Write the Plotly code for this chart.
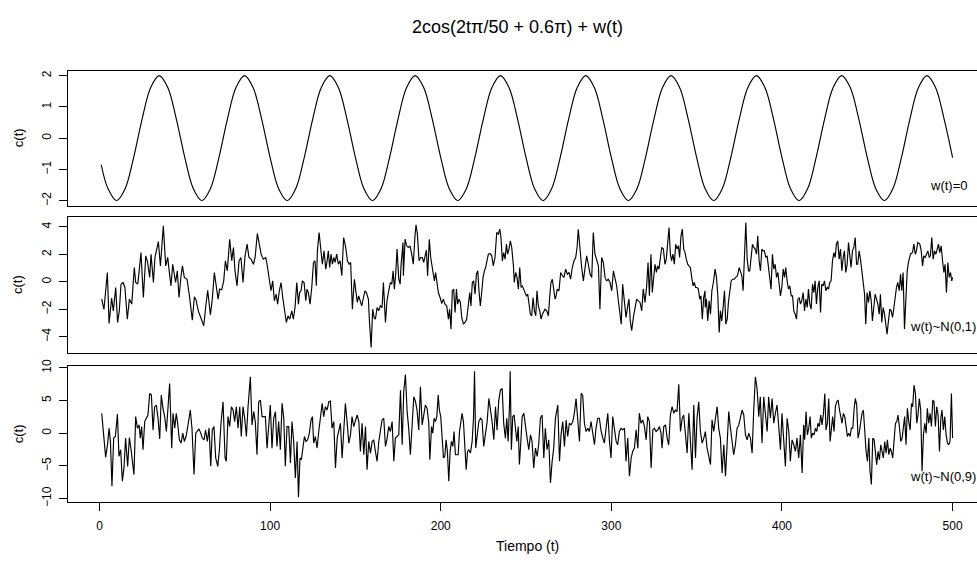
import plotly.graph_objects as go

# ---------------- data ----------------
# Panel 1: clean cosine, read at t = 1, 5, 10, 15, ..., 500
cos_t = [1, 5] + list(range(10, 501, 5))
cos_y = [-0.85, -1.62,
         -2, -1.62, -0.62, 0.62, 1.62, 2, 1.62, 0.62, -0.62, -1.62,
         -2, -1.62, -0.62, 0.62, 1.62, 2, 1.62, 0.62, -0.62, -1.62,
         -2, -1.62, -0.62, 0.62, 1.62, 2, 1.62, 0.62, -0.62, -1.62,
         -2, -1.62, -0.62, 0.62, 1.62, 2, 1.62, 0.62, -0.62, -1.62,
         -2, -1.62, -0.62, 0.62, 1.62, 2, 1.62, 0.62, -0.62, -1.62,
         -2, -1.62, -0.62, 0.62, 1.62, 2, 1.62, 0.62, -0.62, -1.62,
         -2, -1.62, -0.62, 0.62, 1.62, 2, 1.62, 0.62, -0.62, -1.62,
         -2, -1.62, -0.62, 0.62, 1.62, 2, 1.62, 0.62, -0.62, -1.62,
         -2, -1.62, -0.62, 0.62, 1.62, 2, 1.62, 0.62, -0.62, -1.62,
         -2, -1.62, -0.62, 0.62, 1.62, 2, 1.62, 0.62, -0.62]

# Panel 2: cosine + N(0,1) noise, (t, value) pairs
noise1_pts = [
 (1.3,-1.26),(2.6,-2.01),(4.6,0.68),(5.6,-3.03),(7.1,-1.19),(8.1,-2.11),(9.5,-0.41),(10.6,-2.96),
 (11.6,-2.11),(12.6,-0.17),(13.8,-0.05),(14.9,-0.41),(16.3,-2.72),(17.5,-1.26),(18.9,-1.62),(20.4,1.04),
 (21.2,-0.05),(22.4,-0.17),(23.3,0.85),(24.3,2.13),(25.7,-1.14),(27.1,1.89),(28.2,1.41),(29.4,0.32),
 (30.2,2.01),(31.6,-0.05),(32.5,1.77),(33.5,2.25),(34.5,2.93),(35.7,1.16),(37.4,4.07),(38.8,1.16),
 (40.0,1.77),(40.7,0.92),(41.9,-0.29),(42.9,1.28),(43.9,0.56),(44.6,-0.05),(45.6,0.80),(46.6,-1.14),
 (47.8,0.44),(48.6,1.16),(49.7,0.32),(51.3,0.19),(52.7,-1.02),(54.4,-2.79),(55.6,-1.09),(56.6,-1.33),
 (57.9,-2.11),(59.5,-2.72),(61.1,-3.20),(62.2,-1.87),(63.4,-0.61),(65.0,-2.40),(66.1,-1.26),(67.3,0.68),
 (68.5,-0.29),(69.5,-1.26),(70.4,-0.53),(71.6,-0.58),(72.8,0.07),(73.8,1.53),(74.9,0.80),(76.3,3.10),
 (77.5,1.53),(78.5,2.50),(79.4,0.80),(80.6,-0.29),(81.8,1.53),(82.9,1.77),(84.1,-0.05),(85.3,1.89),
 (86.5,2.74),(87.6,1.77),(88.8,1.65),(90.0,1.41),(90.2,1.28),(91.2,1.77),(92.5,3.52),(93.5,2.86),
 (94.7,2.01),(96.0,1.65),(97.4,1.77),(98.2,1.28),(99.4,0.32),(100.5,-0.65),(101.5,0.07),(102.5,-1.38),
 (103.5,-0.90),(104.4,-1.62),(105.4,-0.65),(106.4,-0.05),(107.4,-1.14),(108.4,-2.11),(109.5,-2.96),(110.5,-2.47),
 (111.5,-2.72),(112.7,-2.11),(113.6,-2.72),(114.6,-1.87),(115.6,-0.05),(116.6,-1.62),(117.3,-0.78),(118.1,-0.65),
 (118.9,0.07),(119.9,-0.05),(120.9,-1.38),(121.6,-0.53),(122.4,-0.78),(123.4,-1.62),(124.4,-0.41),(125.4,1.41),
 (126.3,1.53),(127.1,-0.29),(127.7,2.25),(128.7,3.59),(129.6,2.50),(130.6,1.28),(131.6,2.25),(132.6,0.92),
 (133.4,1.53),(134.1,2.25),(134.9,1.04),(135.7,2.01),(136.5,1.28),(137.3,1.77),(138.1,1.41),(139.0,2.01),
 (140.0,1.28),(141.0,1.53),(142.0,0.44),(143.1,3.22),(144.3,2.50),(145.3,1.53),(146.3,1.28),(147.2,1.41),
 (148.2,-1.99),(149.4,0.19),(150.2,-0.65),(151.1,-1.50),(151.9,-1.02),(152.7,-1.38),(153.7,-1.75),(154.7,-1.14),
 (155.6,-0.65),(156.4,-0.78),(157.6,-1.26),(158.2,-2.84),(159.2,-4.78),(160.1,-1.99),(160.9,-2.59),(161.7,-2.72),
 (162.7,-1.87),(163.6,-2.11),(164.6,-1.75),(165.6,-1.87),(166.4,-0.05),(167.6,-2.96),(168.5,-1.38),(169.5,-0.65),
 (170.5,-0.05),(171.3,-0.17),(172.1,0.80),(172.8,-0.53),(173.6,0.56),(174.4,2.38),(175.4,0.19),(176.2,-0.17),
 (176.7,1.16),(177.9,2.86),(178.1,0.44),(179.1,3.10),(180.0,2.62),(181.0,2.50),(182.0,2.62),(183.0,2.01),
 (183.9,1.28),(184.9,3.35),(185.5,4.15),(186.3,3.47),(187.3,1.53),(188.2,1.77),(189.2,1.77),(190.0,1.41),
 (190.8,2.01),(191.6,2.30),(192.3,0.44),(193.3,3.10),(194.1,1.77),(194.7,1.28),(195.5,0.80),(196.3,0.07),
 (197.0,0.68),(197.8,-0.05),(198.6,-0.78),(199.6,-1.14),(200.6,-1.58),(201.5,-1.26),(202.5,-1.62),(203.5,-1.75),
 (204.5,-2.72),(205.2,-1.99),(206.0,-3.44),(206.8,-0.65),(207.6,-0.53),(208.4,-2.23),(209.2,-0.53),(209.9,-1.62),
 (210.7,-1.26),(211.5,-1.50),(212.3,-2.59),(213.3,-3.08),(214.2,-2.96),(215.2,-2.72),(216.2,-1.38),(217.0,-0.78),
 (217.7,-1.75),(218.5,-0.05),(219.3,0.07),(220.1,-0.90),(220.9,0.56),(221.7,0.80),(222.4,-0.65),(223.2,-1.75),
 (224.0,-0.78),(224.8,0.32),(225.6,0.80),(226.3,1.04),(227.1,1.53),(227.9,2.01),(228.9,2.06),(229.9,1.89),
 (230.8,1.16),(231.8,1.77),(232.8,3.59),(233.8,3.47),(234.6,3.83),(235.3,3.22),(236.1,1.53),(236.9,2.13),
 (237.7,1.65),(238.5,2.74),(239.2,2.01),(240.0,2.38),(240.8,2.98),(241.6,2.50),(242.6,1.16),(243.1,-0.05),
 (243.9,0.68),(244.7,0.32),(245.5,-0.53),(246.3,1.04),(247.1,-0.41),(247.8,-0.29),(248.6,-0.53),(249.4,-0.78),
 (250.2,-1.02),(251.0,-0.90),(251.7,-1.50),(252.5,-2.35),(253.3,-2.47),(254.1,-1.14),(254.9,-2.11),(255.7,-2.47),
 (256.4,-0.65),(257.2,-1.75),(258.0,-2.11),(258.8,-2.72),(259.6,-2.35),(260.3,-2.11),(261.1,-1.99),(262.1,-2.11),
 (263.1,-2.47),(263.9,-1.02),(264.6,-0.05),(265.4,0.19),(266.2,-0.65),(267.0,-1.26),(267.4,-1.14),(268.3,-0.53),
 (269.3,-0.65),(270.3,0.68),(271.3,0.44),(272.2,0.32),(273.2,0.92),(274.2,0.56),(275.2,0.68),(276.1,0.19),
 (277.1,1.04),(278.1,1.53),(279.1,1.77),(279.9,2.50),(280.6,3.83),(281.4,2.50),(282.6,1.04),(283.6,0.07),
 (284.5,0.80),(285.5,1.89),(286.5,1.28),(287.5,0.56),(288.5,0.32),(289.4,3.59),(290.4,2.01),(291.4,1.53),
 (292.4,1.16),(293.3,-1.99),(294.3,1.77),(295.3,1.41),(296.3,0.32),(297.2,0.07),(298.2,0.19),(299.2,-0.05),
 (300.2,-0.65),(301.2,0.80),(302.1,0.32),(303.1,-0.29),(304.1,-1.38),(305.1,-2.35),(305.8,-3.08),(306.6,-0.17),
 (307.6,-1.38),(308.6,-2.59),(309.6,-1.75),(310.3,-1.26),(311.1,-2.84),(311.9,-3.56),(312.9,-2.59),(313.9,-1.87),
 (314.8,-1.26),(315.8,-1.38),(316.8,-1.50),(317.8,-2.11),(318.7,-0.53),(319.7,-1.50),(320.7,-0.29),(321.5,1.41),
 (322.3,-1.02),(323.2,2.01),(324.0,-0.78),(324.8,0.32),(325.6,1.28),(326.4,0.68),(327.1,1.16),(327.9,0.92),
 (328.7,1.77),(329.5,2.50),(330.5,2.38),(331.4,1.28),(332.2,1.65),(333.0,3.22),(333.8,3.95),(334.6,2.01),
 (335.3,1.53),(336.1,2.01),(336.9,1.28),(337.7,2.74),(338.5,2.38),(339.3,2.62),(340.0,1.77),(340.8,3.35),
 (341.6,3.83),(342.4,2.38),(343.2,2.13),(343.9,1.65),(344.7,1.28),(345.5,1.16),(346.3,1.04),(347.1,0.32),
 (347.9,-0.29),(348.6,-0.05),(349.4,-0.41),(350.2,-0.41),(351.0,-0.53),(351.8,-1.26),(352.5,-1.02),(353.3,-2.72),
 (354.1,-1.14),(354.9,-0.65),(355.0,-1.87),(355.7,-1.26),(356.5,-2.84),(357.3,-1.38),(358.1,-2.35),(358.9,-0.65),
 (359.8,-0.05),(360.8,0.92),(361.6,0.32),(362.4,-1.02),(363.2,-3.68),(363.9,-2.11),(364.7,-2.84),(365.5,-1.87),
 (366.3,-0.65),(367.1,-3.08),(367.9,-2.72),(368.6,-1.50),(369.4,-0.65),(370.2,0.07),(371.0,0.19),(372.0,0.19),
 (372.9,0.32),(373.9,0.44),(374.9,1.04),(375.7,0.80),(376.5,0.44),(377.2,-0.65),(378.0,1.77),(378.8,4.32),
 (379.6,1.65),(380.4,0.80),(381.1,0.80),(381.9,1.89),(382.7,2.74),(383.5,2.50),(384.3,2.38),(385.1,2.01),
 (385.8,3.35),(386.6,1.53),(387.4,0.80),(388.2,2.38),(389.0,2.25),(389.7,2.25),(390.5,1.77),(391.3,1.89),
 (392.1,1.16),(392.9,0.44),(393.6,-0.53),(394.4,2.01),(395.2,0.92),(396.0,1.28),(396.8,0.32),(397.6,0.68),
 (398.3,0.07),(399.1,-1.02),(399.9,-0.41),(400.7,0.92),(401.5,0.32),(402.2,1.04),(403.0,0.07),(403.8,-0.53),
 (404.6,-0.29),(405.4,-1.02),(406.2,-1.02),(406.9,-2.11),(407.7,-2.35),(408.5,-2.72),(409.3,-1.26),(410.1,-1.14),
 (410.8,-1.62),(411.6,-1.38),(412.4,-0.78),(413.2,-2.11),(414.0,-1.26),(414.8,-1.87),(415.5,-0.53),(416.3,-1.62),
 (417.1,-1.99),(417.9,-0.17),(418.7,-0.78),(419.4,0.07),(420.2,-1.62),(421.0,-0.41),(421.8,0.07),(422.6,-2.23),
 (423.3,-0.17),(424.1,-0.29),(424.9,0.07),(425.7,-0.65),(426.5,-0.41),(427.3,-0.53),(428.0,-0.05),(428.8,0.07),
 (429.6,1.53),(430.4,2.13),(431.2,1.77),(431.9,2.74),(432.7,2.98),(433.5,1.65),(434.3,2.38),(435.1,0.80),
 (435.9,1.77),(436.6,2.25),(437.4,0.68),(438.2,1.28),(439.0,2.86),(439.8,2.01),(440.5,1.04),(441.3,2.25),
 (442.1,2.50),(442.9,3.22),(443.7,1.28),(444.4,1.28),(445.2,2.25),(446.0,1.65),(446.8,0.80),(447.6,0.32),
 (448.4,-0.90),(449.1,-3.08),(449.9,-0.78),(450.7,-1.50),(451.5,-0.65),(452.3,-1.38),(453.0,-2.84),(453.8,-1.87),
 (454.6,-0.90),(455.4,-1.26),(456.2,-1.62),(457.0,-2.35),(457.7,-0.90),(458.5,-2.96),(459.3,-1.87),(460.1,-2.35),
 (460.9,-3.20),(461.6,-3.81),(462.4,-2.84),(463.2,-1.99),(464.0,-2.11),(464.8,-2.59),(465.6,-1.87),(466.3,-1.14),
 (467.1,-0.41),(467.9,-0.05),(468.7,-0.65),(469.5,0.56),(470.2,-0.65),(471.0,0.68),(471.8,-3.44),(473.4,0.80),
 (474.1,1.41),(475.3,2.01),(476.5,2.13),(477.3,2.74),(478.1,2.01),(478.8,2.25),(479.6,2.86),(480.8,2.74),
 (481.6,2.25),(482.4,1.16),(483.1,1.89),(483.9,1.77),(484.7,2.01),(485.5,2.25),(486.3,1.77),(487.0,1.89),
 (487.8,3.22),(488.6,1.65),(489.4,2.25),(490.2,2.01),(491.0,2.38),(491.7,2.74),(492.5,2.13),(493.3,2.62),
 (494.1,1.53),(494.9,0.68),(495.6,1.28),(496.4,-0.78),(497.2,1.41),(498.0,0.32),(498.8,0.68),(499.5,0.07),
 (500.0,0.32)]

# Panel 3: cosine + N(0,9) noise, (t, value) pairs
noise9_pts = [
 (1.3,3.04),(2.4,-0.25),(3.6,-3.69),(4.8,-1.51),(5.6,0.77),(6.4,-1.26),(7.3,-8.11),(8.3,-0.75),
 (9.3,-0.50),(10.5,2.94),(11.4,-3.54),(12.4,-2.53),(13.4,-7.35),(14.4,-5.07),(15.3,-0.75),(16.5,-5.07),
 (17.5,-0.65),(18.5,-2.53),(19.4,-4.31),(20.2,-6.33),(21.2,2.54),(22.2,0.77),(23.2,1.27),(23.9,-0.75),
 (24.7,1.02),(25.5,-2.53),(26.5,1.78),(27.5,2.28),(28.4,2.79),(29.4,6.08),(30.4,5.83),(31.4,0.51),
 (32.3,4.06),(33.3,4.31),(34.3,2.28),(35.3,-0.86),(36.2,5.83),(37.2,3.81),(38.2,2.54),(39.2,0.26),
 (40.2,4.31),(41.1,7.60),(42.3,-2.28),(43.1,3.04),(44.1,0.77),(45.0,3.04),(45.8,1.52),(46.8,-1.01),
 (47.8,-1.51),(48.8,0.01),(49.7,-1.26),(50.7,-0.50),(51.9,1.27),(53.2,3.55),(54.2,0.77),(55.4,-6.33),
 (56.4,0.01),(57.3,0.41),(58.3,0.66),(59.3,0.01),(60.3,-0.75),(61.3,-1.01),(62.2,0.51),(63.2,-1.26),
 (64.2,0.77),(65.2,-5.07),(66.1,0.51),(67.1,1.02),(68.1,-3.79),(69.3,-5.07),(70.2,-2.78),(71.2,1.52),
 (72.4,4.82),(73.6,-3.79),(74.3,-4.30),(75.3,2.54),(76.3,1.02),(77.3,4.06),(78.3,3.55),(79.2,1.78),
 (80.2,4.06),(81.2,0.77),(82.2,4.06),(83.1,-0.50),(84.1,4.06),(85.1,2.28),(86.1,-0.50),(87.0,3.81),
 (88.4,8.62),(89.4,1.27),(90.4,3.30),(91.3,1.78),(92.3,-3.29),(93.3,4.82),(94.3,5.07),(95.3,2.54),
 (96.2,2.54),(97.2,2.54),(98.2,-2.28),(99.2,1.02),(100.1,4.31),(101.1,-2.28),(102.1,2.28),(103.1,3.30),
 (104.0,-2.03),(105.0,1.78),(106.0,-2.53),(107.0,4.57),(108.0,2.28),(108.9,-5.07),(109.9,1.02),(110.9,1.02),
 (111.9,-4.56),(112.8,1.78),(113.8,-1.26),(114.8,-6.84),(115.8,-1.26),(116.6,-9.80),(117.5,-3.79),(118.3,-4.05),
 (119.3,-1.77),(120.1,-0.50),(121.0,-1.26),(122.0,-1.01),(123.0,0.01),(124.0,2.03),(124.8,2.54),(125.5,-1.51),
 (126.5,-0.50),(127.5,-2.27),(128.5,0.26),(129.5,2.54),(130.5,4.56),(131.4,2.54),(132.4,4.06),(133.4,3.55),
 (134.4,4.82),(135.3,4.92),(136.3,0.77),(137.3,1.78),(138.3,-5.31),(139.3,-0.75),(140.2,0.26),(141.2,1.52),
 (142.2,-3.79),(143.2,1.78),(144.1,4.56),(145.1,1.78),(146.1,-1.51),(147.1,-0.25),(148.0,2.54),(149.0,1.02),
 (150.0,1.78),(151.0,2.79),(152.0,1.78),(152.9,-2.78),(153.9,1.52),(154.9,-3.29),(155.9,1.02),(156.8,-5.57),
 (157.8,-1.26),(158.8,-3.04),(159.8,-1.26),(160.7,-1.01),(161.7,-2.78),(162.7,-4.30),(163.7,-1.26),(164.7,0.51),
 (165.6,2.03),(166.6,2.28),(167.6,-2.02),(168.6,-0.75),(169.5,1.02),(170.5,0.26),(171.5,1.78),(172.5,-4.30),
 (173.4,-0.75),(174.4,-0.50),(175.4,-0.25),(176.4,6.59),(177.4,-1.77),(178.3,6.34),(179.3,8.97),(180.3,3.30),
 (181.3,0.51),(182.2,-3.29),(183.2,1.52),(184.2,5.58),(185.2,4.82),(186.1,3.55),(187.1,0.51),(188.1,7.10),
 (189.1,1.27),(190.1,3.04),(191.0,4.31),(192.0,3.81),(193.0,1.52),(193.6,-4.05),(194.6,1.02),(195.3,0.01),
 (196.1,2.28),(196.9,1.78),(197.7,2.54),(198.5,5.83),(199.2,3.55),(200.0,2.54),(200.8,-0.25),(201.6,-3.79),
 (202.4,-3.54),(203.1,-1.01),(203.9,-2.78),(204.7,-7.35),(205.5,-2.78),(206.3,-1.26),(207.1,-2.02),(207.8,0.26),
 (208.6,-3.29),(209.4,-3.29),(210.2,-3.29),(211.0,0.26),(211.7,1.52),(212.5,3.04),(213.3,1.78),(214.1,-2.28),
 (214.9,-5.57),(215.7,-2.78),(216.4,-2.53),(217.4,-3.04),(218.4,-1.26),(219.2,2.28),(219.8,9.48),(220.5,-2.28),
 (221.3,-0.75),(222.3,1.78),(223.3,2.28),(224.2,2.03),(225.2,-2.02),(226.2,0.26),(227.2,1.78),(228.2,5.32),
 (229.1,3.81),(230.1,1.78),(231.1,-1.01),(232.1,4.06),(233.0,0.51),(234.0,5.07),(235.0,6.59),(236.0,6.84),
 (236.9,1.52),(237.9,-0.75),(238.7,2.28),(239.5,-1.26),(240.3,4.31),(240.7,9.48),(241.4,-2.53),(242.2,2.54),
 (243.0,2.79),(243.8,1.02),(244.6,-1.26),(245.4,1.02),(246.1,-4.80),(246.9,-1.51),(247.7,2.54),(248.7,3.04),
 (249.6,0.77),(250.6,-0.75),(251.6,-2.53),(252.6,-0.25),(253.5,-1.26),(254.5,-5.31),(255.5,-2.28),(256.5,-3.55),
 (257.4,-1.77),(258.4,2.28),(259.4,2.79),(260.4,-3.79),(261.3,0.77),(262.3,-2.53),(263.3,-1.01),(264.3,-7.60),
 (265.3,-4.30),(266.2,-2.28),(267.2,2.28),(268.6,4.31),(269.6,-4.30),(270.5,-0.25),(271.5,1.78),(272.5,-2.02),
 (273.5,2.03),(274.4,-0.50),(275.4,1.52),(276.4,1.27),(277.4,1.78),(278.3,3.04),(279.3,5.32),(280.3,2.28),
 (281.3,-1.26),(282.3,6.08),(283.2,5.83),(284.2,1.52),(285.2,0.26),(286.2,0.77),(287.1,0.26),(288.1,1.78),
 (289.1,0.26),(290.1,-1.77),(291.0,0.77),(292.0,2.28),(293.0,2.28),(294.0,0.26),(295.0,-0.75),(295.9,-1.51),
 (296.9,0.77),(297.9,3.04),(298.9,-1.26),(299.8,-3.79),(300.8,2.54),(301.8,0.77),(302.8,-1.26),(303.7,-1.77),
 (304.7,0.26),(305.7,0.77),(306.7,0.51),(307.7,0.77),(308.6,-4.30),(309.6,-0.75),(310.6,-6.59),(311.6,-3.79),
 (312.5,-2.78),(313.5,-2.28),(314.5,0.51),(315.5,-2.28),(316.4,3.04),(317.4,1.52),(318.4,2.03),(319.4,1.02),
 (320.4,-1.01),(321.3,2.54),(322.3,1.78),(323.3,-5.31),(324.3,0.51),(325.2,0.77),(326.2,0.26),(327.2,0.51),
 (328.2,1.02),(329.1,0.01),(329.7,-2.28),(330.7,1.02),(331.7,1.27),(332.7,-0.75),(333.6,-1.77),(334.6,2.79),
 (335.6,4.06),(336.6,3.04),(337.5,3.55),(338.5,3.30),(339.5,7.50),(340.5,0.26),(341.5,2.28),(342.4,2.79),
 (343.4,0.01),(344.4,-3.04),(345.4,3.04),(346.3,-1.26),(347.3,-5.57),(348.3,4.31),(349.3,-3.79),(350.2,2.28),
 (351.2,4.82),(352.2,0.26),(353.2,-1.51),(354.2,-0.75),(355.1,0.26),(356.1,-2.28),(357.1,-3.79),(358.1,-4.80),
 (359.0,2.03),(360.0,0.26),(361.0,2.28),(362.0,4.06),(362.9,0.77),(363.9,-0.75),(364.9,-6.08),(365.9,-1.77),
 (366.9,-6.59),(367.8,-1.51),(368.8,3.30),(369.8,0.77),(370.8,-1.77),(371.7,-3.29),(372.7,-1.77),(373.7,0.77),
 (374.7,1.27),(375.6,2.28),(376.6,3.55),(377.6,2.79),(378.6,-0.25),(379.6,-1.01),(380.5,0.01),(381.5,-0.75),
 (382.5,-3.04),(383.4,3.30),(384.4,8.62),(385.4,6.84),(386.4,2.54),(387.3,5.58),(388.3,-1.51),(389.3,5.58),
 (390.3,3.30),(391.3,0.26),(392.2,5.58),(393.2,2.28),(394.2,5.32),(395.2,1.52),(396.1,3.04),(397.1,4.31),
 (398.1,1.02),(399.1,-2.53),(400.0,3.04),(401.0,-0.50),(402.0,-5.07),(403.0,2.28),(404.0,0.26),(404.9,-4.30),
 (405.9,-1.01),(406.9,-1.77),(407.9,-2.78),(408.8,-0.75),(409.8,-3.79),(410.8,-0.25),(411.8,-6.08),(412.7,1.27),
 (413.3,-1.01),(414.1,3.30),(414.9,-0.25),(415.7,0.77),(416.5,2.54),(417.2,-0.75),(418.0,0.01),(418.8,-0.25),
 (419.6,0.77),(420.4,0.26),(421.1,1.52),(421.9,1.02),(422.7,2.79),(423.5,1.27),(424.3,3.04),(425.1,6.08),
 (425.8,0.51),(426.6,1.52),(427.4,5.32),(428.2,-1.26),(429.0,1.27),(429.7,2.54),(430.5,0.26),(431.3,4.06),
 (432.1,4.82),(432.9,5.07),(433.7,3.55),(434.4,2.28),(435.2,1.52),(436.0,3.04),(436.8,2.54),(437.6,1.02),
 (438.3,-0.50),(439.1,0.01),(439.9,-0.50),(440.7,0.77),(441.5,0.77),(442.3,3.81),(443.0,5.32),(443.8,4.31),
 (444.6,-0.75),(445.4,0.26),(446.2,2.28),(446.9,3.04),(447.7,3.55),(448.5,-0.75),(449.3,-2.78),(450.1,-4.30),
 (450.9,-0.75),(451.6,-5.82),(452.4,-7.85),(453.2,-0.75),(454.0,-1.01),(454.8,-3.04),(455.5,-4.80),(456.3,-2.78),
 (457.1,-4.05),(457.9,-1.77),(458.7,-3.29),(459.4,-3.79),(460.2,-1.26),(461.0,-3.04),(461.8,-1.01),(462.6,-3.29),
 (463.4,-2.28),(464.1,-2.78),(464.9,-3.79),(465.7,-1.51),(466.5,1.52),(467.3,1.78),(468.0,2.79),(468.8,1.02),
 (469.6,-1.26),(470.4,-0.75),(471.2,1.52),(471.9,2.54),(472.7,-1.77),(473.5,3.81),(474.3,1.78),(475.1,0.51),
 (475.9,4.56),(476.6,4.06),(477.4,7.35),(478.2,6.08),(479.0,1.52),(479.8,3.04),(480.5,5.32),(481.3,3.55),
 (482.1,-5.82),(482.9,-0.25),(483.7,1.52),(484.5,0.01),(485.2,3.81),(486.0,1.52),(486.8,3.04),(487.6,1.02),
 (488.4,5.07),(489.1,4.82),(489.9,1.02),(490.7,4.06),(491.5,2.79),(492.3,-2.78),(493.1,2.28),(493.8,3.55),
 (494.6,0.51),(495.4,2.54),(496.2,-0.25),(497.0,-1.51),(497.7,-1.77),(498.5,-1.26),(499.3,6.08),(500.0,-0.75)]

x_ticks = [0, 100, 200, 300, 400, 500]
y1_ticks = [-2, -1, 0, 1, 2]
y2_ticks = [-4, -2, 0, 2, 4]
y3_ticks = [-10, -5, 0, 5, 10]
panel_labels = ["w(t)=0", "w(t)~N(0,1)", "w(t)~N(0,9)"]
title_text = "2cos(2tπ/50 + 0.6π) + w(t)"
x_title = "Tiempo (t)"
y_title = "c(t)"

# ---------------- figure ----------------
W, H = 977, 567
FONT = "Liberation Sans, Arial, Helvetica, sans-serif"

t2 = [p[0] for p in noise1_pts]
v2 = [p[1] for p in noise1_pts]
t3 = [p[0] for p in noise9_pts]
v3 = [p[1] for p in noise9_pts]

line = dict(color="black", width=1.15)
fig = go.Figure()
fig.add_trace(go.Scatter(x=cos_t, y=cos_y, mode="lines",
                         line=dict(color="black", width=1.15, shape="spline", smoothing=1.0),
                         xaxis="x", yaxis="y", hoverinfo="skip", showlegend=False))
fig.add_trace(go.Scatter(x=t2, y=v2, mode="lines", line=line,
                         xaxis="x2", yaxis="y2", hoverinfo="skip", showlegend=False))
fig.add_trace(go.Scatter(x=t3, y=v3, mode="lines", line=line,
                         xaxis="x3", yaxis="y3", hoverinfo="skip", showlegend=False))

XDOM = [67.5 / W, 1.0]
XR = [-18.76, 514.3]


def px_dom(top, bottom):
    return [1 - bottom / H, 1 - top / H]


dom1 = px_dom(65, 203)
dom2 = px_dom(215, 353)
dom3 = px_dom(367, 506)

xbase = dict(domain=XDOM, range=XR, showline=True, linecolor="black", linewidth=1,
             mirror=True, showgrid=False, zeroline=False)
ybase = dict(showline=True, linecolor="black", linewidth=1, mirror=False,
             showgrid=False, zeroline=False, ticks="outside", ticklen=8,
             tickwidth=1, tickcolor="black", tickangle=-90, ticklabelstandoff=3,
             tickfont=dict(family=FONT, size=12, color="black"))


def rng(vals):
    lo, hi = min(vals), max(vals)
    pad = 0.04 * (hi - lo)
    return [lo - pad, hi + pad]


fig.update_layout(
    width=W, height=H, margin=dict(l=0, r=0, t=0, b=0),
    paper_bgcolor="white", plot_bgcolor="white",
    font=dict(family=FONT, color="black"),
    xaxis=dict(xbase, anchor="y", ticks="", showticklabels=False),
    xaxis2=dict(xbase, anchor="y2", ticks="", showticklabels=False),
    xaxis3=dict(xbase, anchor="y3", ticks="outside", ticklen=8, tickwidth=1,
                tickcolor="black", tickvals=x_ticks, ticklabelstandoff=4,
                tickfont=dict(family=FONT, size=12, color="black")),
    yaxis=dict(ybase, domain=dom1, anchor="x", range=rng(cos_y), tickvals=y1_ticks),
    yaxis2=dict(ybase, domain=dom2, anchor="x2", range=rng(v2), tickvals=y2_ticks),
    yaxis3=dict(ybase, domain=dom3, anchor="x3", range=rng(v3), tickvals=y3_ticks),
)

ann = []
ann.append(dict(text=title_text, x=517 / W, y=1 - 20 / H, xref="paper", yref="paper",
                showarrow=False, xanchor="center", yanchor="middle",
                font=dict(family=FONT, size=18, color="black")))
ann.append(dict(text=x_title, x=527 / W, y=1 - 551 / H, xref="paper", yref="paper",
                showarrow=False, xanchor="center", yanchor="middle",
                font=dict(family=FONT, size=14, color="black")))
for dom in (dom1, dom2, dom3):
    ann.append(dict(text=y_title, x=18 / W, y=(dom[0] + dom[1]) / 2, xref="paper",
                    yref="paper", showarrow=False, textangle=-90,
                    xanchor="center", yanchor="middle",
                    font=dict(family=FONT, size=13, color="black")))
label_pos = [(928, 182), (907.7, 326), (907.7, 480)]
for txt, (lx, ly) in zip(panel_labels, label_pos):
    ann.append(dict(text=txt, x=lx / W, y=1 - ly / H, xref="paper", yref="paper",
                    showarrow=False, xanchor="left", yanchor="middle",
                    font=dict(family=FONT, size=13, color="black")))
fig.update_layout(annotations=ann)

fig.write_html("out.html", config={"displayModeBar": False},
               post_script="document.body.style.margin='0';document.body.style.padding='0';")
